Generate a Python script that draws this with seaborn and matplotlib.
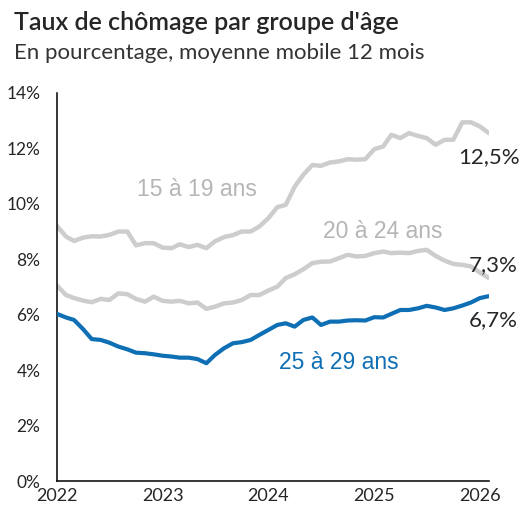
import seaborn as sns
import matplotlib.pyplot as plt
import matplotlib.dates as mdates
import pandas as pd

mois = pd.date_range("2022-01-01", periods=50, freq="MS")

ados_15_19 = [9.2, 8.82, 8.66, 8.78, 8.83, 8.82, 8.88, 9.0, 9.0, 8.5,
              8.58, 8.58, 8.42, 8.4, 8.54, 8.44, 8.52, 8.4, 8.65, 8.8,
              8.87, 9.0, 9.0, 9.18, 9.48, 9.88, 9.96, 10.62, 11.05, 11.4,
              11.37, 11.49, 11.53, 11.61, 11.59, 11.61, 11.97, 12.07, 12.49, 12.37,
              12.55, 12.45, 12.37, 12.13, 12.31, 12.31, 12.94, 12.94, 12.79, 12.55]
jeunes_20_24 = [7.05, 6.71, 6.6, 6.51, 6.45, 6.57, 6.53, 6.77, 6.74, 6.57,
                6.47, 6.65, 6.5, 6.47, 6.5, 6.41, 6.44, 6.21, 6.29, 6.41,
                6.44, 6.53, 6.71, 6.71, 6.87, 7.01, 7.32, 7.46, 7.64, 7.86,
                7.91, 7.92, 8.04, 8.16, 8.1, 8.12, 8.22, 8.28, 8.22, 8.24,
                8.22, 8.3, 8.34, 8.12, 7.95, 7.83, 7.8, 7.74, 7.52, 7.32]
adultes_25_29 = [6.03, 5.9, 5.81, 5.48, 5.12, 5.09, 4.99, 4.85, 4.75, 4.63,
                 4.61, 4.57, 4.52, 4.49, 4.45, 4.45, 4.4, 4.25, 4.55, 4.79,
                 4.97, 5.01, 5.09, 5.27, 5.45, 5.63, 5.69, 5.57, 5.81, 5.9,
                 5.63, 5.75, 5.75, 5.79, 5.8, 5.79, 5.91, 5.9, 6.03, 6.17,
                 6.17, 6.23, 6.32, 6.26, 6.17, 6.23, 6.33, 6.44, 6.6, 6.67]

groupes = ["15 à 19 ans", "20 à 24 ans", "25 à 29 ans"]
couleurs = {"15 à 19 ans": "#cdcdcd", "20 à 24 ans": "#cdcdcd", "25 à 29 ans": "#0f6fb5"}
derniers = ["12,5%", "7,3%", "6,7%"]

df = pd.DataFrame({"mois": mois, "15 à 19 ans": ados_15_19,
                   "20 à 24 ans": jeunes_20_24, "25 à 29 ans": adultes_25_29})
df = df.melt(id_vars="mois", var_name="groupe", value_name="taux")

sns.set_style("white")
plt.rcParams["font.family"] = ["Lato", "DejaVu Sans"]

fig = plt.figure(figsize=(5.21, 5.12), dpi=100)
ax = fig.add_axes([0.1094, 0.0605, 0.829, 0.758])

sns.lineplot(data=df, x="mois", y="taux", hue="groupe", hue_order=groupes,
             palette=couleurs, linewidth=3.2, legend=False, ax=ax)
# la ligne bleue par-dessus
ax.lines[2].set_zorder(5)
ax.lines[2].set_linewidth(3.0)

ax.set_xlim(mois[0], mois[-1])
ax.set_ylim(0, 14)
ax.set_yticks(range(0, 15, 2))
ax.set_yticklabels([f"{v}%" for v in range(0, 15, 2)])
ax.xaxis.set_major_locator(mdates.YearLocator())
ax.xaxis.set_major_formatter(mdates.DateFormatter("%Y"))
ax.set_xlabel("")
ax.set_ylabel("")
ax.tick_params(axis="y", length=0, pad=12, labelsize=12.5)
ax.tick_params(axis="x", length=0, pad=5, labelsize=13)

sns.despine(ax=ax)
ax.spines["left"].set_color("black")
ax.spines["bottom"].set_color("black")
ax.spines["left"].set_linewidth(1.1)
ax.spines["bottom"].set_linewidth(1.1)

# libellés des séries
sans = ["Liberation Sans", "DejaVu Sans"]
ax.text(mois[16], 10.5, "15 à 19 ans", color="#b5b5b5", fontsize=16.5,
        ha="center", va="center", family=sans)
ax.text(mois[37], 9.0, "20 à 24 ans", color="#b5b5b5", fontsize=16.5,
        ha="center", va="center", family=sans)
ax.text(mois[32], 4.26, "25 à 29 ans", color="#0f6fb5", fontsize=16.5,
        ha="center", va="center", family=sans)

# dernières valeurs
ax.annotate(derniers[0], xy=(mois[-1], 11.7), xytext=(22, 0), textcoords="offset points",
            fontsize=16, ha="right", va="center", annotation_clip=False)
ax.annotate(derniers[1], xy=(mois[-1], 7.8), xytext=(21, 0), textcoords="offset points",
            fontsize=16, ha="right", va="center", annotation_clip=False)
ax.annotate(derniers[2], xy=(mois[-1], 5.82), xytext=(21, 0), textcoords="offset points",
            fontsize=16, ha="right", va="center", annotation_clip=False)

fig.text(0.027, 0.957, "Taux de chômage par groupe d'âge", fontsize=18,
         fontweight="semibold", ha="left", va="center")
fig.text(0.027, 0.896, "En pourcentage, moyenne mobile 12 mois", fontsize=16,
         color="#333333", ha="left", va="center")

fig.savefig("out.png", dpi=100)
